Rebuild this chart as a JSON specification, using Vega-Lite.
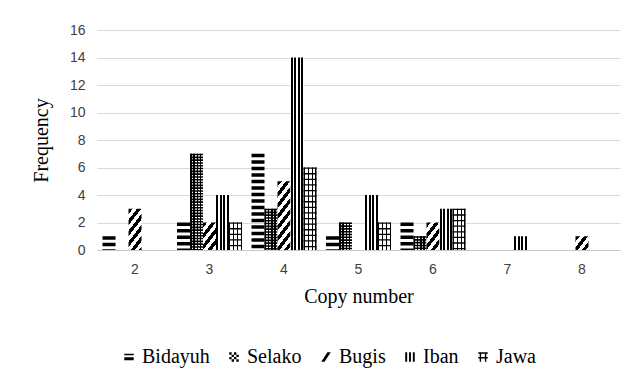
{
  "$schema": "https://vega.github.io/schema/vega-lite/v6.json",
  "width": 523,
  "height": 220,
  "autosize": "none",
  "padding": {"left": 97, "top": 30, "right": 11, "bottom": 139},
  "background": "white",
  "config": {
    "view": {"stroke": null},
    "axis": {"labelFont": "Liberation Sans", "labelFontSize": 14, "labelColor": "#404040", "titleFont": "Liberation Serif", "titleFontSize": 20, "titleFontWeight": "normal", "titleColor": "#000", "ticks": false},
    "legend": {"labelFont": "Liberation Serif", "labelFontSize": 20, "labelColor": "#000", "symbolFillColor": "#000"}
  },
  "data": {
    "values": [
      {"copy": "2", "group": "Bidayuh", "freq": 1},
      {"copy": "2", "group": "Bugis", "freq": 3},
      {"copy": "3", "group": "Bidayuh", "freq": 2},
      {"copy": "3", "group": "Selako", "freq": 7},
      {"copy": "3", "group": "Bugis", "freq": 2},
      {"copy": "3", "group": "Iban", "freq": 4},
      {"copy": "3", "group": "Jawa", "freq": 2},
      {"copy": "4", "group": "Bidayuh", "freq": 7},
      {"copy": "4", "group": "Selako", "freq": 3},
      {"copy": "4", "group": "Bugis", "freq": 5},
      {"copy": "4", "group": "Iban", "freq": 14},
      {"copy": "4", "group": "Jawa", "freq": 6},
      {"copy": "5", "group": "Bidayuh", "freq": 1},
      {"copy": "5", "group": "Selako", "freq": 2},
      {"copy": "5", "group": "Iban", "freq": 4},
      {"copy": "5", "group": "Jawa", "freq": 2},
      {"copy": "6", "group": "Bidayuh", "freq": 2},
      {"copy": "6", "group": "Selako", "freq": 1},
      {"copy": "6", "group": "Bugis", "freq": 2},
      {"copy": "6", "group": "Iban", "freq": 3},
      {"copy": "6", "group": "Jawa", "freq": 3},
      {"copy": "7", "group": "Iban", "freq": 1},
      {"copy": "8", "group": "Bugis", "freq": 1}
    ]
  },
  "encoding": {
    "x": {"field": "copy", "type": "ordinal", "sort": ["2","3","4","5","6","7","8"],
      "scale": {"paddingInner": 0.1275, "paddingOuter": 0.074},
      "axis": {"title": "Copy number", "labelAngle": 0, "labelPadding": 12, "titlePadding": 10, "domainColor": "#c8c8c8", "domainWidth": 1, "grid": false}},
    "xOffset": {"field": "group", "type": "nominal", "scale": {"domain": ["Bidayuh","Selako","Bugis","Iban","Jawa"], "paddingInner": 0, "paddingOuter": 0}},
    "y": {"field": "freq", "type": "quantitative",
      "scale": {"domain": [0, 16], "nice": false},
      "axis": {"title": "Frequency", "values": [0,2,4,6,8,10,12,14,16], "domain": false, "gridColor": "#d9d9d9", "gridWidth": 1.2, "labelPadding": 12, "titlePadding": 18}}
  },
  "layer": [
    {
      "transform": [{"filter": "datum.group === 'Bidayuh'"}],
      "mark": {"type": "rule", "stroke": "#000", "strokeWidth": 13, "strokeDash": [3.5, 3], "strokeCap": "butt"},
      "encoding": {"y2": {"datum": 0}}
    },
    {
      "transform": [{"filter": "datum.group === 'Selako'"}],
      "mark": {"type": "bar", "fill": {"gradient": "linear", "x1": 0, "y1": 0, "x2": 1, "y2": 0, "stops": [
        {"offset": 0, "color": "#000"}, {"offset": 0.125, "color": "#000"}, {"offset": 0.125, "color": "#fff"}, {"offset": 0.25, "color": "#fff"},
        {"offset": 0.25, "color": "#000"}, {"offset": 0.375, "color": "#000"}, {"offset": 0.375, "color": "#fff"}, {"offset": 0.5, "color": "#fff"},
        {"offset": 0.5, "color": "#000"}, {"offset": 0.625, "color": "#000"}, {"offset": 0.625, "color": "#fff"}, {"offset": 0.75, "color": "#fff"},
        {"offset": 0.75, "color": "#000"}, {"offset": 0.875, "color": "#000"}, {"offset": 0.875, "color": "#fff"}, {"offset": 1, "color": "#fff"}
      ]}, "strokeWidth": 0}
    },
    {
      "transform": [{"filter": "datum.group === 'Selako'"}],
      "mark": {"type": "rule", "stroke": "#000", "strokeWidth": 13, "strokeDash": [1.6, 1.2], "strokeCap": "butt"},
      "encoding": {"y2": {"datum": 0}}
    },
    {
      "transform": [{"filter": "datum.group === 'Bugis'"}],
      "mark": {"type": "bar", "strokeWidth": 0},
      "encoding": {
        "fill": {
          "condition": [
            {"test": "datum.freq === 1", "value": {"gradient": "linear", "x1": 0, "y1": 0, "x2": 1.0913, "y2": 0.8878, "stops": [
              {"offset": 0, "color": "#000"}, {"offset": 0.1794, "color": "#000"}, {"offset": 0.1794, "color": "#fff"}, {"offset": 0.3589, "color": "#fff"},
              {"offset": 0.3589, "color": "#000"}, {"offset": 0.5383, "color": "#000"}, {"offset": 0.5383, "color": "#fff"}, {"offset": 0.7178, "color": "#fff"},
              {"offset": 0.7178, "color": "#000"}, {"offset": 0.8972, "color": "#000"}, {"offset": 0.8972, "color": "#fff"}, {"offset": 1, "color": "#fff"}]}},
            {"test": "datum.freq === 2", "value": {"gradient": "linear", "x1": 0, "y1": 0, "x2": 0.7202, "y2": 1.1719, "stops": [
              {"offset": 0, "color": "#000"}, {"offset": 0.1239, "color": "#000"}, {"offset": 0.1239, "color": "#fff"}, {"offset": 0.2477, "color": "#fff"},
              {"offset": 0.2477, "color": "#000"}, {"offset": 0.3716, "color": "#000"}, {"offset": 0.3716, "color": "#fff"}, {"offset": 0.4955, "color": "#fff"},
              {"offset": 0.4955, "color": "#000"}, {"offset": 0.6194, "color": "#000"}, {"offset": 0.6194, "color": "#fff"}, {"offset": 0.7432, "color": "#fff"},
              {"offset": 0.7432, "color": "#000"}, {"offset": 0.8671, "color": "#000"}, {"offset": 0.8671, "color": "#fff"}, {"offset": 0.991, "color": "#fff"},
              {"offset": 0.991, "color": "#000"}, {"offset": 1, "color": "#000"}]}},
            {"test": "datum.freq === 3", "value": {"gradient": "linear", "x1": 0, "y1": 0, "x2": 0.49454, "y2": 1.2071, "stops": [
              {"offset": 0, "color": "#000"}, {"offset": 0.0946, "color": "#000"}, {"offset": 0.0946, "color": "#fff"}, {"offset": 0.1892, "color": "#fff"},
              {"offset": 0.1892, "color": "#000"}, {"offset": 0.2838, "color": "#000"}, {"offset": 0.2838, "color": "#fff"}, {"offset": 0.3783, "color": "#fff"},
              {"offset": 0.3783, "color": "#000"}, {"offset": 0.4729, "color": "#000"}, {"offset": 0.4729, "color": "#fff"}, {"offset": 0.5675, "color": "#fff"},
              {"offset": 0.5675, "color": "#000"}, {"offset": 0.6621, "color": "#000"}, {"offset": 0.6621, "color": "#fff"}, {"offset": 0.7567, "color": "#fff"},
              {"offset": 0.7567, "color": "#000"}, {"offset": 0.8513, "color": "#000"}, {"offset": 0.8513, "color": "#fff"}, {"offset": 0.9458, "color": "#fff"},
              {"offset": 0.9458, "color": "#000"}, {"offset": 1, "color": "#000"}]}}
          ],
          "value": {"gradient": "linear", "x1": 0, "y1": 0, "x2": 0.28879, "y2": 1.1748, "stops": [
            {"offset": 0, "color": "#000"}, {"offset": 0.0642, "color": "#000"}, {"offset": 0.0642, "color": "#fff"}, {"offset": 0.1284, "color": "#fff"},
            {"offset": 0.1284, "color": "#000"}, {"offset": 0.1926, "color": "#000"}, {"offset": 0.1926, "color": "#fff"}, {"offset": 0.2569, "color": "#fff"},
            {"offset": 0.2569, "color": "#000"}, {"offset": 0.3211, "color": "#000"}, {"offset": 0.3211, "color": "#fff"}, {"offset": 0.3853, "color": "#fff"},
            {"offset": 0.3853, "color": "#000"}, {"offset": 0.4495, "color": "#000"}, {"offset": 0.4495, "color": "#fff"}, {"offset": 0.5137, "color": "#fff"},
            {"offset": 0.5137, "color": "#000"}, {"offset": 0.5779, "color": "#000"}, {"offset": 0.5779, "color": "#fff"}, {"offset": 0.6422, "color": "#fff"},
            {"offset": 0.6422, "color": "#000"}, {"offset": 0.7064, "color": "#000"}, {"offset": 0.7064, "color": "#fff"}, {"offset": 0.7706, "color": "#fff"},
            {"offset": 0.7706, "color": "#000"}, {"offset": 0.8348, "color": "#000"}, {"offset": 0.8348, "color": "#fff"}, {"offset": 0.899, "color": "#fff"},
            {"offset": 0.899, "color": "#000"}, {"offset": 0.9632, "color": "#000"}, {"offset": 0.9632, "color": "#fff"}, {"offset": 1, "color": "#fff"}]}
        }
      }
    },
    {
      "transform": [{"filter": "datum.group === 'Iban'"}],
      "mark": {"type": "bar", "strokeWidth": 0, "fill": {"gradient": "linear", "x1": 0, "y1": 0, "x2": 1, "y2": 0, "stops": [
        {"offset": 0, "color": "#fff"}, {"offset": 0.03, "color": "#fff"}, {"offset": 0.03, "color": "#000"}, {"offset": 0.17, "color": "#000"},
        {"offset": 0.17, "color": "#fff"}, {"offset": 0.29, "color": "#fff"}, {"offset": 0.29, "color": "#000"}, {"offset": 0.43, "color": "#000"},
        {"offset": 0.43, "color": "#fff"}, {"offset": 0.56, "color": "#fff"}, {"offset": 0.56, "color": "#000"}, {"offset": 0.7, "color": "#000"},
        {"offset": 0.7, "color": "#fff"}, {"offset": 0.83, "color": "#fff"}, {"offset": 0.83, "color": "#000"}, {"offset": 0.97, "color": "#000"},
        {"offset": 0.97, "color": "#fff"}, {"offset": 1, "color": "#fff"}]}}
    },
    {
      "transform": [{"filter": "datum.group === 'Jawa'"}],
      "mark": {"type": "bar", "strokeWidth": 0, "fill": {"gradient": "linear", "x1": 0, "y1": 0, "x2": 1, "y2": 0, "stops": [
        {"offset": 0, "color": "#000"}, {"offset": 0.08, "color": "#000"}, {"offset": 0.08, "color": "#fff"}, {"offset": 0.31, "color": "#fff"},
        {"offset": 0.31, "color": "#000"}, {"offset": 0.39, "color": "#000"}, {"offset": 0.39, "color": "#fff"}, {"offset": 0.62, "color": "#fff"},
        {"offset": 0.62, "color": "#000"}, {"offset": 0.7, "color": "#000"}, {"offset": 0.7, "color": "#fff"}, {"offset": 0.92, "color": "#fff"},
        {"offset": 0.92, "color": "#000"}, {"offset": 1, "color": "#000"}]}}
    },
    {
      "transform": [{"filter": "datum.group === 'Jawa'"}],
      "mark": {"type": "rule", "stroke": "#000", "strokeWidth": 13, "strokeDash": [1.3, 4.3], "strokeCap": "butt"},
      "encoding": {"y2": {"datum": 0}}
    },
    {
      "mark": {"type": "point", "filled": true, "color": "#000", "fill": "#000", "opacity": 0},
      "encoding": {
        "shape": {"field": "group", "type": "nominal",
          "scale": {"domain": ["Bidayuh","Selako","Bugis","Iban","Jawa"],
            "range": [
              "M-1,-0.7H1V-0.35H-1Z M-1,0.05H1V0.7H-1Z",
              "M-1,-1h0.5v0.5h-0.5Z M0,-1h0.5v0.5h-0.5Z M-0.5,-0.5h0.5v0.5h-0.5Z M0.5,-0.5h0.5v0.5h-0.5Z M-1,0h0.5v0.5h-0.5Z M0,0h0.5v0.5h-0.5Z M-0.5,0.5h0.5v0.5h-0.5Z M0.5,0.5h0.5v0.5h-0.5Z",
              "M0.3,-1L1,-1L-0.3,1L-1,1Z",
              "M-1,-1h0.4v2h-0.4Z M-0.2,-1h0.4v2h-0.4Z M0.6,-1h0.4v2h-0.4Z",
              "M-1,-1H1V-0.7H-1Z M-0.7,-1h0.3v2h-0.3Z M0.4,-1h0.3v2h-0.3Z M-1,0H1V0.3H-1Z"
            ]},
          "legend": {"title": null, "orient": "none", "direction": "horizontal", "legendX": 22, "legendY": 317,
            "symbolSize": 90, "symbolFillColor": "#000", "symbolOpacity": 1, "labelFont": "Liberation Serif", "labelFontSize": 20, "labelColor": "#000", "labelOffset": 3, "columnPadding": 14,
            "encode": {"labels": {"update": {"font": {"value": "Liberation Serif"}, "fontSize": {"value": 20}}}}}}
      }
    }
  ]
}
